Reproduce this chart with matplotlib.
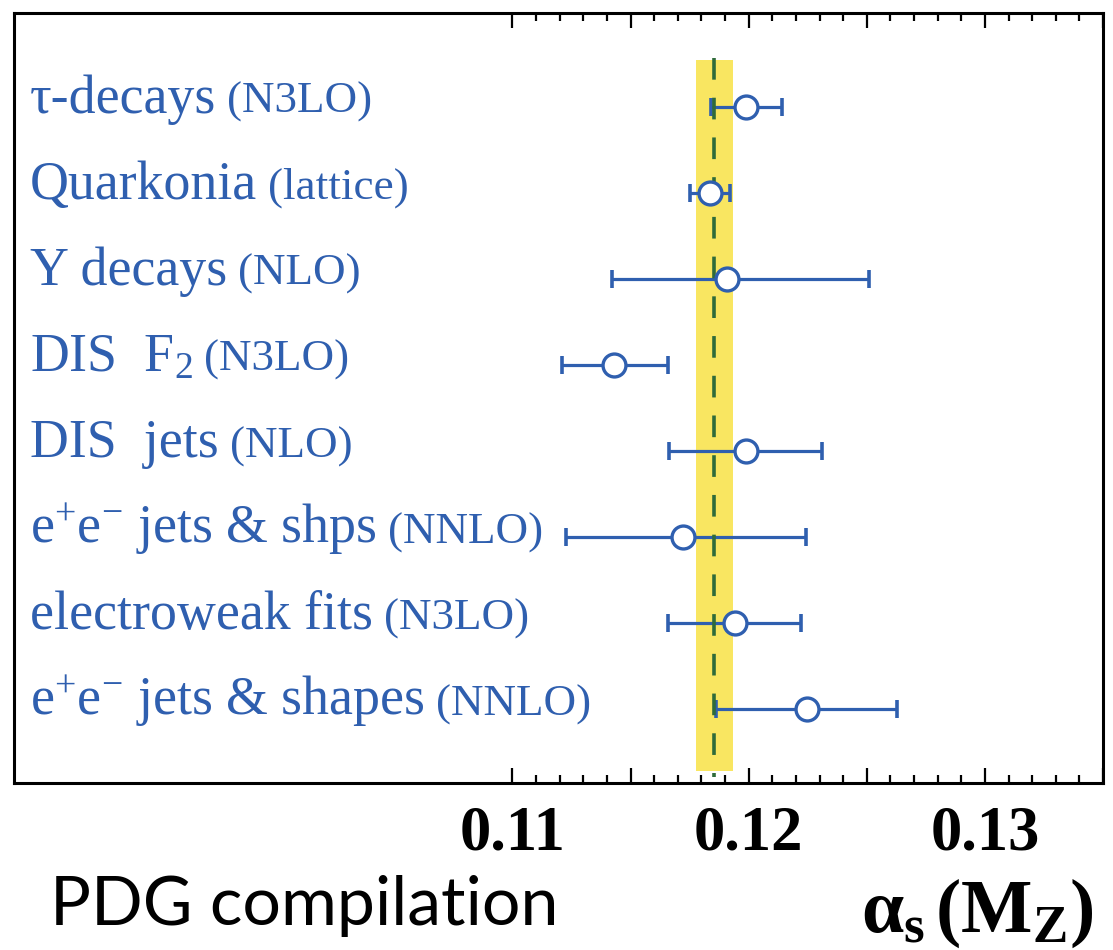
import matplotlib
matplotlib.use('Agg')
import matplotlib.pyplot as plt
import matplotlib.transforms as mtransforms
from matplotlib.ticker import FixedLocator, FixedFormatter
import numpy as np

# ---------------- data ----------------
labels_main = ['τ-decays', 'Quarkonia', 'Υ decays', r'DIS  F$_\mathrm{2}$', 'DIS  jets',
               r'e$^{+}$e$^{-}$ jets & shps', 'electroweak fits', r'e$^{+}$e$^{-}$ jets & shapes']
labels_order = ['(N3LO)', '(lattice)', '(NLO)', '(N3LO)', '(NLO)', '(NNLO)', '(N3LO)', '(NNLO)']
central = [0.1199, 0.11835, 0.1191, 0.1143, 0.1199, 0.1172, 0.1194, 0.12245]
lower = [0.1184, 0.1175, 0.1142, 0.1121, 0.11663, 0.11225, 0.1166, 0.1186]
upper = [0.1214, 0.1192, 0.1251, 0.11657, 0.1231, 0.12243, 0.12222, 0.12628]
world_avg = 0.11855
world_err = 0.00079
tick_values = [0.11, 0.115, 0.12, 0.125, 0.13, 0.135]
tick_labels = ['0.11', '', '0.12', '', '0.13', '']

BLUE = '#2f5faf'
YELLOW = '#f9e661'
GREEN = '#2f6b3a'

plt.rcParams['mathtext.fontset'] = 'custom'
plt.rcParams['mathtext.rm'] = 'Liberation Serif'
plt.rcParams['mathtext.it'] = 'Liberation Serif:italic'
plt.rcParams['mathtext.bf'] = 'Liberation Serif:bold'

fig = plt.figure(figsize=(11.13, 9.5), dpi=100)
ax = fig.add_axes([0.0126, 0.1758, 0.9785, 0.8105])

n = len(central)
ypos = np.arange(n)
c = np.array(central)
xerr = np.vstack([c - np.array(lower), np.array(upper) - c])

ax.set_xlim(0.0889, 0.135)
ax.set_ylim(n - 1 + 0.855, -1.088)

# world-average band and dashed line
ax.fill_betweenx([-0.545, n - 1 + 0.71], world_avg - world_err, world_avg + world_err,
                 color=YELLOW, lw=0, zorder=1)
ax.plot([world_avg, world_avg], [-0.56, n - 1 + 0.79], color=GREEN, lw=2.6,
        dashes=(6, 5), zorder=3)

ax.errorbar(c, ypos, xerr=xerr, fmt='none', ecolor=BLUE, elinewidth=2.3,
            capsize=6.5, capthick=2.6, zorder=2)
ax.plot(c, ypos, 'o', ms=16.5, mfc='white', mec=BLUE, mew=2.4, zorder=4, ls='none')

# ticks
ax.xaxis.set_major_locator(FixedLocator(tick_values))
ax.xaxis.set_major_formatter(FixedFormatter(tick_labels))
minor = [v for v in np.round(np.arange(0.110, 0.1351, 0.001), 4) if round(v / 0.005, 6) % 1 != 0]
ax.xaxis.set_minor_locator(FixedLocator(minor))
ax.tick_params(axis='x', which='both', direction='in', top=True, bottom=True, width=1.6,
               colors='black')
ax.tick_params(axis='x', which='major', length=11, pad=16)
ax.tick_params(axis='x', which='minor', length=5.5)
for lab in ax.get_xticklabels():
    lab.set_fontfamily('Liberation Serif')
    lab.set_fontweight('bold')
    lab.set_fontsize(45)
ax.set_yticks([])
for s in ax.spines.values():
    s.set_linewidth(2.2)

# labels
trans = mtransforms.blended_transform_factory(ax.transAxes, ax.transData)
mains = []
for i, m in enumerate(labels_main):
    t = ax.text(0.0147, i + 0.07, m, transform=trans, va='baseline', ha='left',
                fontsize=38.8, color=BLUE, family='Liberation Serif')
    mains.append(t)

fig.canvas.draw()
renderer = fig.canvas.get_renderer()
for i, (t, o) in enumerate(zip(mains, labels_order)):
    w = t.get_window_extent(renderer).width
    off = mtransforms.offset_copy(trans, fig=fig, x=w + 11, y=0, units='dots')
    ax.text(0.0147, i + 0.07, o, transform=off, va='baseline', ha='left',
            fontsize=32.5, color=BLUE, family='Liberation Serif')

fig.text(50 / 1113, 1 - 925 / 950, 'PDG compilation', family='Lato', fontsize=49,
         va='baseline', ha='left', color='black')
fig.text(861 / 1113, 1 - 932 / 950,
         r'$\mathbf{\alpha}_{\mathbf{s}}\,\mathbf{(M}_{\mathbf{Z}}\mathbf{)}$',
         fontsize=54.5, va='baseline', ha='left', color='black')

fig.savefig('out.png', dpi=100)
